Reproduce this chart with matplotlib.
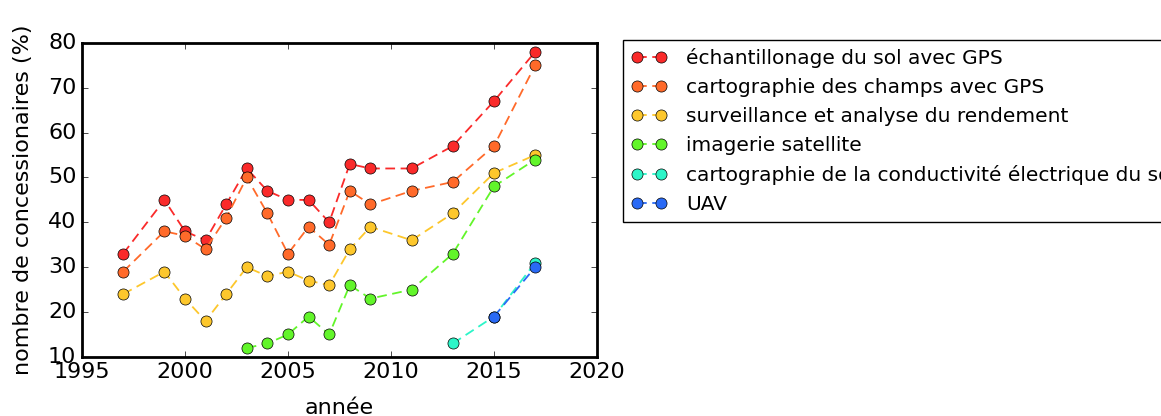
import matplotlib
matplotlib.use("Agg")
from matplotlib import pyplot as plt

plt.style.use("classic")

annees = [1997, 1999, 2000, 2001, 2002, 2003, 2004, 2005, 2006, 2007, 2008, 2009, 2011, 2013, 2015, 2017]
annees_sat = [2003, 2004, 2005, 2006, 2007, 2008, 2009, 2011, 2013, 2015, 2017]
annees_cond = [2013, 2015, 2017]
annees_uav = [2015, 2017]

echantillonage = [33, 45, 38, 36, 44, 52, 47, 45, 45, 40, 53, 52, 52, 57, 67, 78]
cartographie = [29, 38, 37, 34, 41, 50, 42, 33, 39, 35, 47, 44, 47, 49, 57, 75]
rendement = [24, 29, 23, 18, 24, 30, 28, 29, 27, 26, 34, 39, 36, 42, 51, 55]
satellite = [12, 13, 15, 19, 15, 26, 23, 25, 33, 48, 54]
conductivite = [13, 19, 31]
uav = [19, 30]

series = [
    (annees, echantillonage, "échantillonage du sol avec GPS", "#fa2a2a"),
    (annees, cartographie, "cartographie des champs avec GPS", "#ff6a2a"),
    (annees, rendement, "surveillance et analyse du rendement", "#fdc72c"),
    (annees_sat, satellite, "imagerie satellite", "#62f52a"),
    (annees_cond, conductivite, "cartographie de la conductivité électrique du sol", "#2cf5c8"),
    (annees_uav, uav, "UAV", "#2a6af5"),
]

fig = plt.figure(figsize=(11.61, 4.16), dpi=100)
ax = fig.add_axes([0.0706, 0.142, 0.4436, 0.755])

for x, y, nom, couleur in series:
    ax.plot(x, y, "--o", color=couleur, markerfacecolor=couleur,
            markeredgecolor="black", markersize=8, linewidth=1.3,
            dashes=(7, 4), label=nom)

ax.set_xlim(1995, 2020)
ax.set_ylim(10, 80)
ax.ticklabel_format(useOffset=False)
ax.set_xlabel("année", fontsize=16, labelpad=11)
ax.set_ylabel("nombre de concessionaires (%)", fontsize=16, labelpad=11)
ax.tick_params(labelsize=16)
for s in ax.spines.values():
    s.set_linewidth(2)

ax.legend(loc="upper left", bbox_to_anchor=(1.05, 1.01), fontsize=14.5,
          numpoints=2, borderaxespad=0, handlelength=1.8, handletextpad=0.95,
          labelspacing=0.5)

fig.savefig("out.png", dpi=100)
